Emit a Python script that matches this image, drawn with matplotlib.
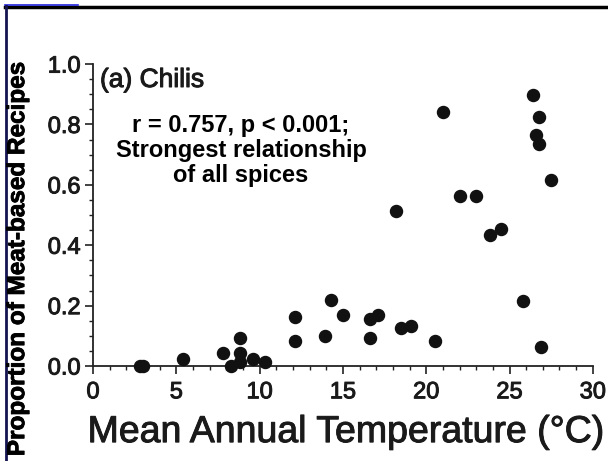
import numpy as np
import matplotlib.pyplot as plt
import matplotlib.patheffects as pe
from matplotlib.lines import Line2D
from matplotlib.ticker import MultipleLocator

# mean annual temperature (C) and proportion of meat-based recipes with chilis
temp = [2.8, 3.0, 5.4, 7.8, 8.3, 8.8, 8.8, 8.8, 9.6, 10.3,
        12.1, 12.1, 13.9, 14.3, 15.0, 16.6, 16.6, 17.1, 18.2, 18.5,
        19.1, 20.5, 21.0, 22.0, 23.0, 23.8, 24.5, 25.8, 26.4, 26.8,
        26.6, 26.8, 27.5, 26.9]
prop = [0.0, 0.0, 0.022, 0.042, 0.0, 0.094, 0.044, 0.014, 0.022, 0.014,
        0.161, 0.084, 0.10, 0.22, 0.17, 0.155, 0.094, 0.17, 0.513, 0.125,
        0.134, 0.083, 0.842, 0.563, 0.563, 0.434, 0.454, 0.215, 0.897, 0.825,
        0.765, 0.735, 0.616, 0.064]

plt.rcParams['font.family'] = ['Liberation Sans', 'DejaVu Sans']

# scanned text looks a bit heavier than the regular weight
heavy = [pe.withStroke(linewidth=0.7, foreground='#1a1a1a')]

fig = plt.figure(figsize=(6.08, 4.61), dpi=100)
ax = fig.add_axes([0.153, 0.206, 0.822, 0.655])

ax.scatter(temp, prop, s=75, color='#111111', zorder=3, clip_on=False)

ax.set_xlim(0, 30)
ax.set_ylim(0, 1.0)
ax.spines['top'].set_visible(False)
ax.spines['right'].set_visible(False)
for s in ['left', 'bottom']:
    ax.spines[s].set_linewidth(1.3)
    ax.spines[s].set_color('#222222')

ax.xaxis.set_major_locator(MultipleLocator(5))
ax.xaxis.set_minor_locator(MultipleLocator(1))
ax.yaxis.set_major_locator(MultipleLocator(0.2))
ax.yaxis.set_minor_locator(MultipleLocator(0.05))
ax.yaxis.set_major_formatter(plt.FormatStrFormatter('%.1f'))
ax.tick_params(which='major', length=6, width=1.2, labelsize=17, colors='#222222')
ax.tick_params(axis='x', which='major', pad=5)
ax.tick_params(axis='y', which='major', pad=3)
ax.tick_params(which='minor', length=3, width=1.0, colors='#222222')
for lab in ax.get_xticklabels() + ax.get_yticklabels():
    lab.set_color('#1a1a1a')
    lab.set_path_effects(heavy)

fig.text(0.569, 0.041, 'Mean Annual Temperature (°C)', fontsize=27,
         ha='center', va='baseline', color='#1a1a1a', path_effects=heavy)
fig.text(0.029, 0.866, 'Proportion of Meat-based Recipes', rotation=90,
         fontsize=17.5, fontweight='bold', ha='center', va='top', color='black',
         path_effects=[pe.withStroke(linewidth=0.6, foreground='black')])

fig.text(100 / 608, 1 - 68 / 461, '(a) Chilis', fontsize=19, ha='left', va='top',
         color='#1a1a1a', path_effects=heavy)
fig.text(241 / 608, 1 - 114 / 461, 'r = 0.757, p < 0.001;\nStrongest relationship\nof all spices',
         fontsize=17, fontweight='bold', ha='center', va='top', linespacing=1.1)

# scanned frame around the picture
fig.add_artist(Line2D([0.008, 1.0], [0.985, 0.985], color='black', lw=2.5))
fig.add_artist(Line2D([0.008, 0.128], [0.989, 0.989], color='#2222dd', lw=1.2))
fig.add_artist(Line2D([0.0095, 0.0095], [0.0, 0.988], color='#141450', lw=2))

fig.savefig('out.png', dpi=100)
